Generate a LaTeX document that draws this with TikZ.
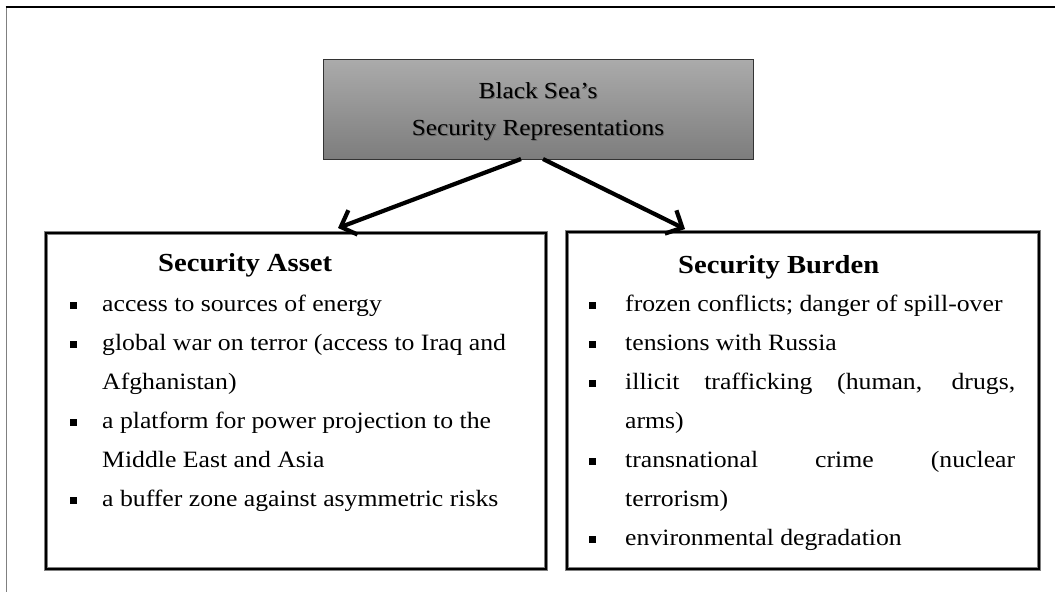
\documentclass[tikz,border=0pt]{standalone}
\usepackage{fontspec}
\setmainfont{Liberation Serif}[FakeStretch=1.1]
\usetikzlibrary{arrows.meta}
\definecolor{frameg}{HTML}{808080}
\definecolor{shadetop}{HTML}{ABABAB}
\definecolor{shadebot}{HTML}{7D7D7D}
\newcommand{\shadowed}[1]{\rlap{\kern1.1pt\raisebox{-1.1pt}{\textcolor{black!60}{#1}}}#1}
\tikzset{
 topbox/.style={draw=black!80, line width=0.8pt, top color=shadetop, bottom color=shadebot, minimum width=430pt, minimum height=100pt, inner sep=0pt},
 toptext/.style={anchor=base, inner sep=0pt, font=\fontsize{23}{30}\selectfont},
 listbox/.style={draw=black, line width=2.6pt, preaction={draw=frameg, line width=4.2pt}, inner sep=0pt},
 heading/.style={anchor=base west, inner sep=0pt, font=\bfseries\fontsize{26}{30}\selectfont},
 itemtext/.style={anchor=base west, inner sep=0pt, font=\fontsize{23.4}{28}\selectfont},
 bul/.style={fill=black, minimum size=7pt, inner sep=0pt},
 link/.style={line width=4.2pt, -{Straight Barb[length=13pt,width=26pt]}}
}
\begin{document}
\begin{tikzpicture}[x=1pt,y=-1pt]
\useasboundingbox (0,0) rectangle (1055,592);
% outer frame
\draw[line width=1.5pt, frameg] (6.5,6) -- (6.5,592);
\draw[line width=2.6pt] (5.5,7) -- (1055,7);

% boxes
\node[topbox] (top) at (538,109) {};
\node[toptext] (t1) at (538,98) {\shadowed{Black Sea’s}};
\node[toptext] (t2) at (538,135) {\shadowed{Security Representations}};
\node[listbox, minimum width=500pt, minimum height=336pt] (asset) at (296,401) {};
\node[listbox, minimum width=472pt, minimum height=337pt] (burden) at (803,400.5) {};

% arrows
\coordinate (ls) at (521,159);
\coordinate (le) at (338,228);
\coordinate (rs) at (543,159);
\coordinate (re) at (685,229);
\draw[link] (ls) -- (le);
\draw[link] (rs) -- (re);

% headings
\node[heading] (ah) at (158,271) {Security Asset};
\node[heading] (bh) at (678,273) {Security Burden};

% left list
\node[bul] (ab1) at (73,305.5) {};
\node[itemtext] (a1) at (102,311) {access to sources of energy};
\node[bul] (ab2) at (73,344.5) {};
\node[itemtext] (a2) at (102,350) {global war on terror (access to Iraq and};
\node[itemtext] (a2b) at (102,389) {Afghanistan)};
\node[bul] (ab3) at (73,422.5) {};
\node[itemtext] (a3) at (102,428) {a platform for power projection to the};
\node[itemtext] (a3b) at (102,467) {Middle East and Asia};
\node[bul] (ab4) at (73,500.5) {};
\node[itemtext] (a4) at (102,506) {a buffer zone against asymmetric risks};

% right list
\node[bul] (bb1) at (592.5,305.5) {};
\node[itemtext] (b1) at (625,311) {frozen conflicts; danger of spill-over};
\node[bul] (bb2) at (592.5,344.5) {};
\node[itemtext] (b2) at (625,350) {tensions with Russia};
\node[bul] (bb3) at (592.5,383.5) {};
\node[itemtext] (b3) at (625,389) {\makebox[390pt][s]{illicit trafficking (human, drugs,}};
\node[itemtext] (b3b) at (625,428) {arms)};
\node[bul] (bb4) at (592.5,461.5) {};
\node[itemtext] (b4) at (625,467) {\makebox[390pt][s]{transnational crime (nuclear}};
\node[itemtext] (b4b) at (625,506) {terrorism)};
\node[bul] (bb5) at (592.5,539.5) {};
\node[itemtext] (b5) at (625,545) {environmental degradation};
\end{tikzpicture}
\end{document}
